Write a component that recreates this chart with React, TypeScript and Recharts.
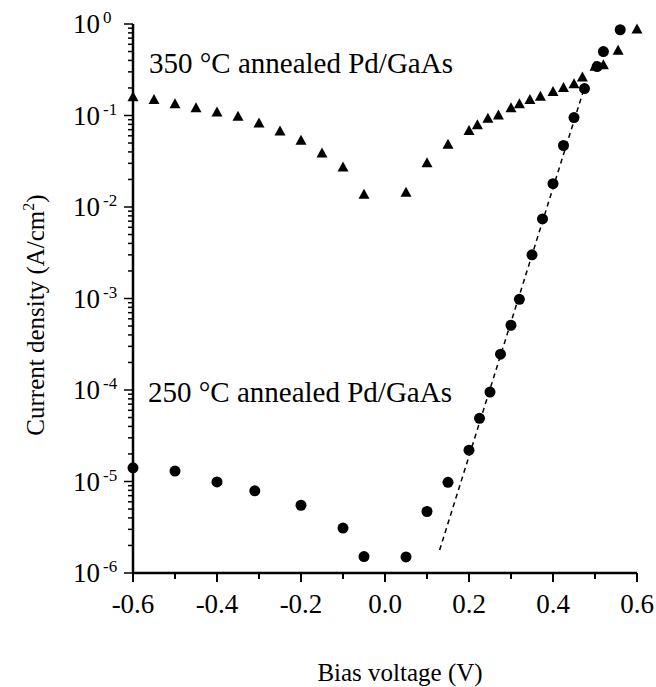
import React from "react";
import { ScatterChart, Scatter, XAxis, YAxis, Customized } from "recharts";

// 350 °C annealed sample (triangles)
const triBias = [
  -0.6, -0.55, -0.5, -0.45, -0.4, -0.35, -0.3, -0.25, -0.2, -0.15, -0.1, -0.05,
  0.05, 0.1, 0.15, 0.2, 0.22, 0.245, 0.27, 0.3, 0.32, 0.345, 0.37, 0.4, 0.425,
  0.45, 0.47, 0.5, 0.52, 0.555, 0.6,
];
const triDensity = [
  0.158, 0.148, 0.133, 0.12, 0.108, 0.097, 0.082, 0.067, 0.053, 0.0385, 0.027, 0.0136,
  0.0143, 0.03, 0.048, 0.0676, 0.078, 0.092, 0.1, 0.12, 0.133, 0.148, 0.16, 0.181, 0.2,
  0.22, 0.26, 0.34, 0.355, 0.51, 0.87,
];

// 250 °C annealed sample (circles)
const dotBias = [
  -0.6, -0.5, -0.4, -0.31, -0.2, -0.1, -0.05, 0.05, 0.1, 0.15, 0.2, 0.225, 0.25,
  0.275, 0.3, 0.32, 0.35, 0.375, 0.4, 0.425, 0.45, 0.475, 0.505, 0.52, 0.56,
];
const dotDensity = [
  1.41e-5, 1.3e-5, 9.9e-6, 7.9e-6, 5.5e-6, 3.1e-6, 1.51e-6, 1.5e-6, 4.7e-6, 9.8e-6,
  2.2e-5, 4.9e-5, 9.5e-5, 2.46e-4, 5.1e-4, 9.8e-4, 3.0e-3, 7.4e-3, 0.018, 0.047, 0.095,
  0.197, 0.343, 0.5, 0.865,
];

// dashed fit through the forward-bias part of the 250 °C curve
const fitBias = [0.13, 0.476];
const fitDensity = [1.78e-6, 0.21];

const xTicks = [-0.6, -0.5, -0.4, -0.3, -0.2, -0.1, 0, 0.1, 0.2, 0.3, 0.4, 0.5, 0.6];
const yMajor = [1e-6, 1e-5, 1e-4, 1e-3, 1e-2, 1e-1, 1];
const yMinorFactors = [2, 3, 4, 5, 6, 7, 8, 9];

const FONT = "'Liberation Serif', 'Times New Roman', serif";

const triangles = triBias.map((x, i) => ({ x, y: triDensity[i] }));
const dots = dotBias.map((x, i) => ({ x, y: dotDensity[i] }));
const fit = fitBias.map((x, i) => ({ x, y: fitDensity[i] }));

const yTicks = [
  ...yMajor,
  ...yMajor.slice(0, -1).flatMap((d) => yMinorFactors.map((f) => d * f)),
].sort((a, b) => a - b);

const isMajorX = (v: number) => Math.abs(Math.round(v * 10)) % 2 === 0;
const isMajorY = (v: number) => Math.abs(Math.log10(v) - Math.round(Math.log10(v))) < 1e-6;

function TriangleMark(p: any) {
  const { cx, cy } = p;
  return (
    <path d={`M${cx},${cy - 6}L${cx - 5.5},${cy + 4}L${cx + 5.5},${cy + 4}Z`} fill="#000" />
  );
}

function DotMark(p: any) {
  return <circle cx={p.cx} cy={p.cy} r={5.5} fill="#000" />;
}

// bottom axis: ticks point outward, labels only on every 0.2
function XTick(p: any) {
  const { x, y, payload } = p;
  const v = payload.value;
  const major = isMajorX(v);
  return (
    <g>
      <line x1={x} x2={x} y1={y} y2={y + (major ? 9 : 6)} stroke="#000" strokeWidth={2} />
      {major && (
        <text x={x} y={y + 40} textAnchor="middle" fontFamily={FONT} fontSize={27} fill="#000">
          {v.toFixed(1)}
        </text>
      )}
    </g>
  );
}

// left log axis: decade labels as 10^n, minor ticks at 2..9
function YTick(p: any) {
  const { x, y, payload } = p;
  const v = payload.value;
  const major = isMajorY(v);
  const exp = Math.round(Math.log10(v));
  return (
    <g>
      <line x1={x - (major ? 9 : 5)} x2={x} y1={y} y2={y} stroke="#000" strokeWidth={1.5} />
      {major && (
        <text x={x - 60} y={y + 9} fontFamily={FONT} fontSize={27} fill="#000">
          <tspan>10</tspan>
          <tspan dx={3} dy={-10} fontSize={17}>
            {exp === 0 ? "0" : `-${Math.abs(exp)}`}
          </tspan>
        </text>
      )}
    </g>
  );
}

function Annotations() {
  return (
    <g fontFamily={FONT} fill="#000">
      <text x={149} y={73} fontSize={29}>
        350 °C annealed Pd/GaAs
      </text>
      <text x={148} y={402} fontSize={29}>
        250 °C annealed Pd/GaAs
      </text>
      <text x={400} y={681} fontSize={25} textAnchor="middle">
        Bias voltage (V)
      </text>
      <text x={44} y={315} fontSize={25} textAnchor="middle" transform="rotate(-90, 44, 315)">
        Current density (A/cm<tspan dy={-10} fontSize={16}>2</tspan>
        <tspan dy={10}>)</tspan>
      </text>
    </g>
  );
}

const frameLine = { stroke: "#000", strokeWidth: 2.5 };

export default function App() {
  return (
    <div style={{ position: "absolute", left: 0, top: 0, background: "#fff" }}>
      <ScatterChart
        width={656}
        height={687}
        margin={{ top: 24, right: 19, left: 0, bottom: 0 }}
      >
        <XAxis
          xAxisId="bottom"
          dataKey="x"
          type="number"
          domain={[-0.6, 0.6]}
          ticks={xTicks}
          interval={0}
          tick={<XTick />}
          tickLine={false}
          tickSize={0}
          tickMargin={0}
          height={114}
          axisLine={frameLine}
        />
        <XAxis
          xAxisId="top"
          orientation="top"
          dataKey="x"
          type="number"
          domain={[-0.6, 0.6]}
          tick={false}
          tickLine={false}
          height={0}
          axisLine={frameLine}
        />
        <YAxis
          yAxisId="left"
          dataKey="y"
          type="number"
          scale="log"
          domain={[1e-6, 1]}
          ticks={yTicks}
          interval={0}
          tick={<YTick />}
          tickLine={false}
          tickSize={0}
          tickMargin={0}
          width={133}
          axisLine={frameLine}
        />
        <YAxis
          yAxisId="right"
          orientation="right"
          dataKey="y"
          type="number"
          scale="log"
          domain={[1e-6, 1]}
          tick={false}
          tickLine={false}
          width={0}
          axisLine={frameLine}
        />
        <Scatter
          xAxisId="bottom"
          yAxisId="left"
          data={fit}
          line={{ stroke: "#000", strokeWidth: 1.5, strokeDasharray: "5 4" }}
          shape={() => <g />}
          isAnimationActive={false}
        />
        <Scatter
          xAxisId="bottom"
          yAxisId="left"
          data={triangles}
          shape={<TriangleMark />}
          isAnimationActive={false}
        />
        <Scatter
          xAxisId="bottom"
          yAxisId="left"
          data={dots}
          shape={<DotMark />}
          isAnimationActive={false}
        />
        <Customized component={<Annotations />} />
      </ScatterChart>
    </div>
  );
}
